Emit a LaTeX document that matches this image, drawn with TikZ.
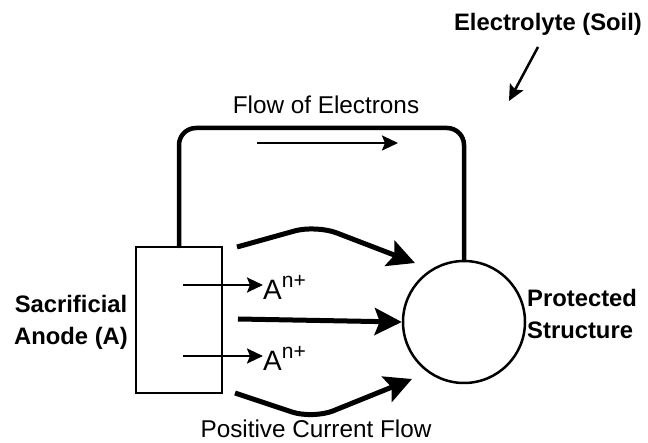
\documentclass[tikz,border=0pt]{standalone}
\usepackage{fontspec}
\setmainfont{Liberation Sans}
\usetikzlibrary{arrows.meta}
\newcommand{\ionlabel}{{\fontsize{28}{28}\selectfont A}\raisebox{12pt}{\fontsize{21}{21}\selectfont n+}}
\begin{document}
\begin{tikzpicture}[x=1pt,y=-1pt,
  txt/.style={font=\fontsize{24.3}{28}\selectfont, inner sep=0pt},
  btxt/.style={font=\fontsize{23.8}{32}\selectfont\bfseries, inner sep=0pt},
  wire/.style={line width=4.5pt, line cap=round},
  bigarrow/.style={line width=5pt, -{Stealth[length=27pt,width=27pt,inset=5pt]}},
  thinarrow/.style={line width=2.5pt, -{Stealth[length=16pt,width=15pt,inset=3pt]}}]
\useasboundingbox (0,0) rectangle (648,443);
% nodes
\node[draw, line width=2pt, minimum width=86pt, minimum height=146pt, inner sep=0pt] (anode) at (179,320) {};
\node[draw, circle, line width=2.5pt, minimum size=122pt, inner sep=0pt] (struct) at (464,322) {};
\node[btxt, align=center] (anodelbl) at (71,322) {Sacrificial\\Anode (A)};
\node[btxt, align=left, anchor=west] (structlbl) at (527,314) {Protected\\Structure};
\node[btxt] (elec) at (548,24) {Electrolyte (Soil)};
\node[txt] (flow) at (326,105) {Flow of Electrons};
\node[txt, anchor=base] (pcf) at (316,438) {Positive Current Flow};
% wire
\coordinate (top) at (464,128);
\draw[wire, rounded corners=17pt] (anode.north) |- (top) -- (struct.north);
% electron arrow
\coordinate (ea1) at (257,143);
\coordinate (ea2) at (398,143);
\draw[thinarrow] (ea1) -- (ea2);
% electrolyte arrow
\coordinate (soilstart) at (538,47);
\coordinate (soil) at (509,101);
\draw[thinarrow] (soilstart) -- (soil);
% ion arrows
\coordinate (i1s) at (183,285);
\node[txt, anchor=base west] (ion1) at (263,300) {\ionlabel};
\draw[thinarrow] (i1s) -- (ion1.west |- i1s);
\coordinate (i2s) at (183,356);
\node[txt, anchor=base west] (ion2) at (263,371) {\ionlabel};
\draw[thinarrow] (i2s) -- (ion2.west |- i2s);
% current arrows
\coordinate (c1s) at (237,247);
\coordinate (c1m) at (316,225);
\coordinate (c1e) at (415,263);
\draw[bigarrow, rounded corners=22pt] (c1s) -- (c1m) -- (c1e);
\coordinate (c2s) at (238,319);
\draw[bigarrow] (c2s) -- (struct.west);
\coordinate (c3s) at (235,393);
\coordinate (c3m) at (313,419);
\coordinate (c3e) at (412,379);
\draw[bigarrow, rounded corners=22pt] (c3s) -- (c3m) -- (c3e);
\end{tikzpicture}
\end{document}
